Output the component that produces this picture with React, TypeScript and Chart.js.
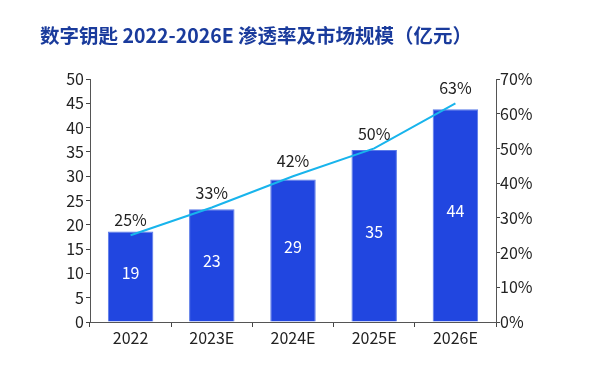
import React, { useEffect, useRef } from "react";
import { Chart, registerables } from "chart.js";

Chart.register(...registerables);

const categories = ["2022", "2023E", "2024E", "2025E", "2026E"];
const marketSize = [18.6, 23.2, 29.3, 35.4, 43.8];
const marketLabels = ["19", "23", "29", "35", "44"];
const penetration = [25, 33, 42, 50, 63];
const penetrationLabels = ["25%", "33%", "42%", "50%", "63%"];
const title = "数字钥匙 2022-2026E 渗透率及市场规模（亿元）";

const FONT = "'Noto Sans CJK SC', 'Noto Sans', sans-serif";

const labelPlugin = {
  id: "valueLabels",
  afterDatasetsDraw(chart: any) {
    const ctx = chart.ctx;
    ctx.save();
    ctx.font = `16px ${FONT}`;
    ctx.textAlign = "center";
    ctx.textBaseline = "middle";
    const barMeta = chart.getDatasetMeta(0);
    barMeta.data.forEach((bar: any, i: number) => {
      const mid = (bar.y + bar.base) / 2 - 4;
      ctx.fillStyle = "#ffffff";
      ctx.fillText(marketLabels[i], bar.x, mid);
    });
    const lineMeta = chart.getDatasetMeta(1);
    lineMeta.data.forEach((pt: any, i: number) => {
      ctx.fillStyle = "#222222";
      ctx.fillText(penetrationLabels[i], pt.x, pt.y - 15);
    });
    ctx.restore();
  },
};

export default function App() {
  const ref = useRef<HTMLCanvasElement | null>(null);
  useEffect(() => {
    if (!ref.current) return;
    const chart = new Chart(ref.current, {
      type: "bar",
      data: {
        labels: categories,
        datasets: [
          {
            type: "bar",
            data: marketSize,
            backgroundColor: "#2146e0",
            borderColor: "#5a7ae8",
            borderWidth: 1,
            barPercentage: 0.56,
            categoryPercentage: 1,
            yAxisID: "y",
            order: 2,
          },
          {
            type: "line",
            data: penetration,
            borderColor: "#18b4ec",
            borderWidth: 2,
            pointRadius: 0,
            tension: 0,
            yAxisID: "y1",
            order: 1,
          } as any,
        ],
      },
      options: {
        animation: false,
        responsive: false,
        layout: { padding: { top: 79, left: 0, right: 0, bottom: 0 } },
        plugins: { legend: { display: false }, tooltip: { enabled: false }, title: { display: false } },
        scales: {
          x: {
            offset: true,
            grid: { display: true, drawOnChartArea: false, offset: true, tickLength: 5, color: "#444" },
            border: { display: true, color: "#555", width: 1 },
            ticks: { color: "#222", font: { family: FONT, size: 16 }, padding: 1 },
            afterFit: (s: any) => { s.height = 45; },
          },
          y: {
            position: "left",
            min: 0,
            max: 50,
            grid: { display: true, drawOnChartArea: false, tickLength: 4, color: "#444" },
            border: { display: true, color: "#555", width: 1 },
            ticks: { stepSize: 5, color: "#222", font: { family: FONT, size: 16 }, padding: 2 },
            afterFit: (s: any) => { s.width = 90; },
          },
          y1: {
            position: "right",
            min: 0,
            max: 70,
            grid: { display: true, drawOnChartArea: false, tickLength: 4, color: "#444" },
            border: { display: true, color: "#555", width: 1 },
            ticks: { stepSize: 10, color: "#222", font: { family: FONT, size: 16 }, padding: 0, callback: (v: any) => v + "%" },
            afterFit: (s: any) => { s.width = 117; },
          },
        },
      },
      plugins: [labelPlugin],
    });
    return () => chart.destroy();
  }, []);
  return (
    <div style={{ position: "absolute", left: 0, top: 0, width: 613, height: 367, background: "#fff" }}>
      <div
        style={{
          position: "absolute",
          left: 40,
          top: 20,
          fontFamily: FONT,
          fontWeight: 700,
          fontSize: 19.5,
          color: "#1a3b9c",
          whiteSpace: "nowrap",
          lineHeight: "30px",
        }}
      >
        {title}
      </div>
      <canvas ref={ref} width={613} height={367} style={{ display: "block" }} />
    </div>
  );
}
